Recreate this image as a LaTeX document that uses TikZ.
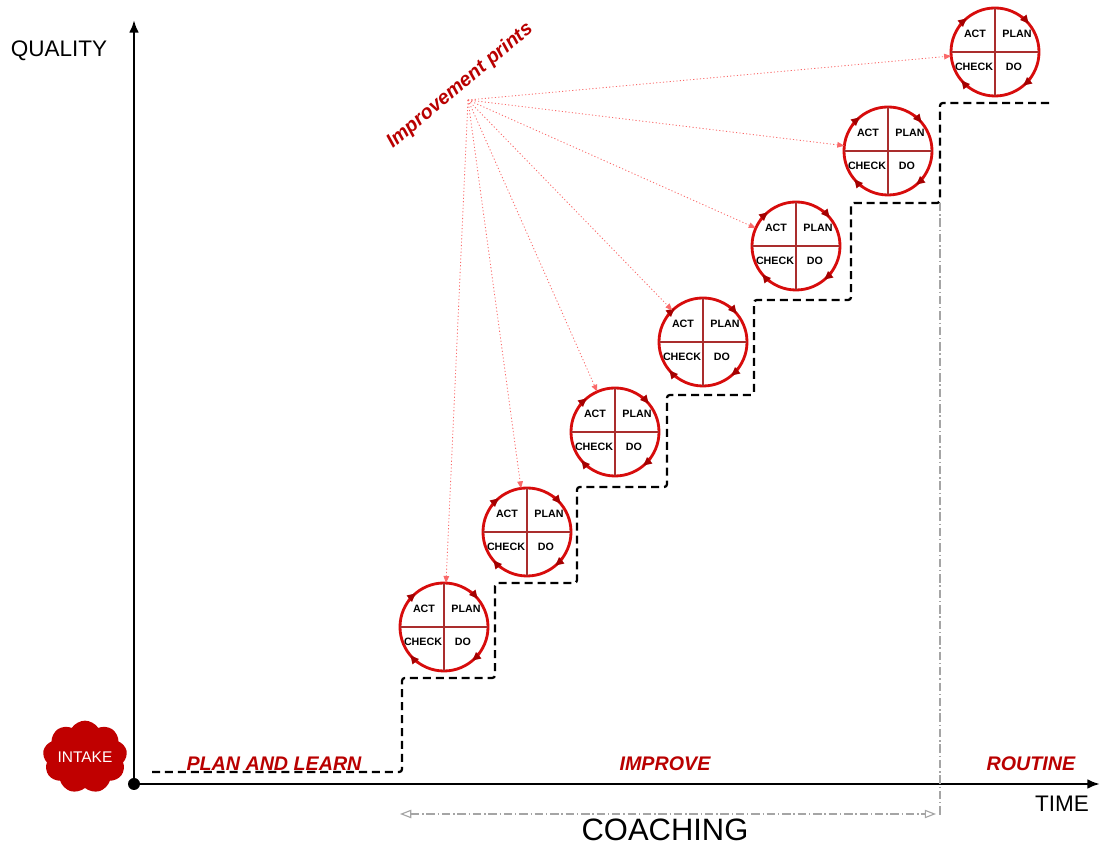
\documentclass[tikz,border=0pt]{standalone}
\usepackage{fontspec}
\setmainfont{Liberation Sans}
\usetikzlibrary{arrows.meta,shapes.symbols}
\definecolor{pdcared}{RGB}{215,12,12}
\definecolor{crossred}{RGB}{170,45,45}
\definecolor{tipred}{RGB}{165,0,0}
\definecolor{labelred}{RGB}{185,0,0}
\definecolor{intakered}{RGB}{192,0,0}
\definecolor{printred}{RGB}{250,105,105}
\definecolor{coachgray}{RGB}{165,165,165}
\def\pdca#1(#2){%
  \node[pdca] (#1) at (#2) {};
  \begin{scope}[shift={(#1.center)}]
    \draw[crossline] (#1.north) -- (#1.south);
    \draw[crossline] (#1.west) -- (#1.east);
    \foreach \a in {40,-50,-140,130}
      \draw[pdcatip] ({\a+14}:44) arc[start angle={\a+14},end angle=\a,radius=44];
    \node[pdcatext] at (-20,18) {ACT};
    \node[pdcatext] at (22,18) {PLAN};
    \node[pdcatext] at (-21,-15) {CHECK};
    \node[pdcatext] at (19,-15) {DO};
  \end{scope}}

\begin{document}
\begin{tikzpicture}[x=0.025cm,y=0.025cm,
    pdca/.style={circle,draw=pdcared,line width=2pt,fill=white,minimum size=2.2cm,inner sep=0pt,outer sep=0pt},
    crossline/.style={draw=crossred,line width=0.9pt},
    pdcatip/.style={draw=pdcared,line width=2pt,-{Triangle[length=6pt,width=5.5pt,color=tipred]}},
    pdcatext/.style={font=\fontsize{7.6}{9}\selectfont\bfseries,inner sep=0pt},
    phase/.style={font=\fontsize{14}{16}\selectfont\bfseries\itshape,text=labelred,inner sep=0pt},
    axislabel/.style={font=\fontsize{16}{18}\selectfont,inner sep=0pt},
    axis/.style={line width=2pt,-{Latex[length=9pt,width=7pt]}},
    steps/.style={line width=1.6pt,dash pattern=on 5.7pt off 3.5pt,rounded corners=2pt},
    coach/.style={draw=coachgray,line width=0.8pt,dash pattern=on 6pt off 2pt on 1pt off 2pt},
    printline/.style={draw=printred,line width=0.6pt,dash pattern=on 0.8pt off 1.6pt,-{Triangle[length=5pt,width=4pt]}}]
    \useasboundingbox (0,0) rectangle (1100,847);
    %%%%% START %%%%%

    % axes
    \coordinate (origin) at (134,63);
    \coordinate (ytop) at (134,827);
    \coordinate (xend) at (1100,63);
    \draw[axis] (origin) -- (ytop);
    \draw[axis] (origin) -- (xend);
    \fill (origin) circle (6);
    \node[axislabel] (quality) at (59,796) {QUALITY};
    \node[axislabel] (time) at (1062,43) {TIME};

    % steps
    \draw[steps] (152,75) -- (402,75) -- (402,169) -- (495,169) -- (495,264)
        -- (577,264) -- (577,360) -- (667,360) -- (667,452) -- (754,452)
        -- (754,547) -- (851,547) -- (851,644) -- (940,644) -- (940,744) -- (1050,744);

    % coaching
    \coordinate (cstart) at (400,33);
    \coordinate (cend) at (936,33);
    \coordinate (ctop) at (940,644);
    \coordinate (cbottom) at (940,32);
    \draw[coach] (ctop) -- (cbottom);
    \draw[coach,{Triangle[open,length=8pt,width=6pt]}-{Triangle[open,length=8pt,width=6pt]}] (cstart) -- (cend);
    \node[font=\fontsize{22}{26}\selectfont,inner sep=0pt,anchor=base] (coaching) at (665,6) {COACHING};

    % phases
    \node[cloud,cloud puffs=9,cloud puff arc=115,aspect=1.25,fill=intakered,text=white,
        minimum width=1.75cm,minimum height=1.4cm,inner sep=0pt,font=\fontsize{11}{13}\selectfont] (intake) at (85,90) {INTAKE};
    \node[phase] (learn) at (274,83) {PLAN AND LEARN};
    \node[phase] (improve) at (665,83) {IMPROVE};
    \node[phase] (routine) at (1031,83) {ROUTINE};

    % circles
    \pdca c1(444,220)
    \pdca c2(527,315)
    \pdca c3(615,415)
    \pdca c4(703,505)
    \pdca c5(796,601)
    \pdca c6(888,696)
    \pdca c7(995,795)

    % improvement prints
    \node[phase,rotate=40] (prints) at (460,761) {Improvement prints};
    \coordinate (printsrc) at (468,747);
    \foreach \c in {c1,c2,c3,c4,c5,c6,c7}
      \draw[printline] (printsrc) -- (\c);

    %%%%% END %%%%%
\end{tikzpicture}
\end{document}
